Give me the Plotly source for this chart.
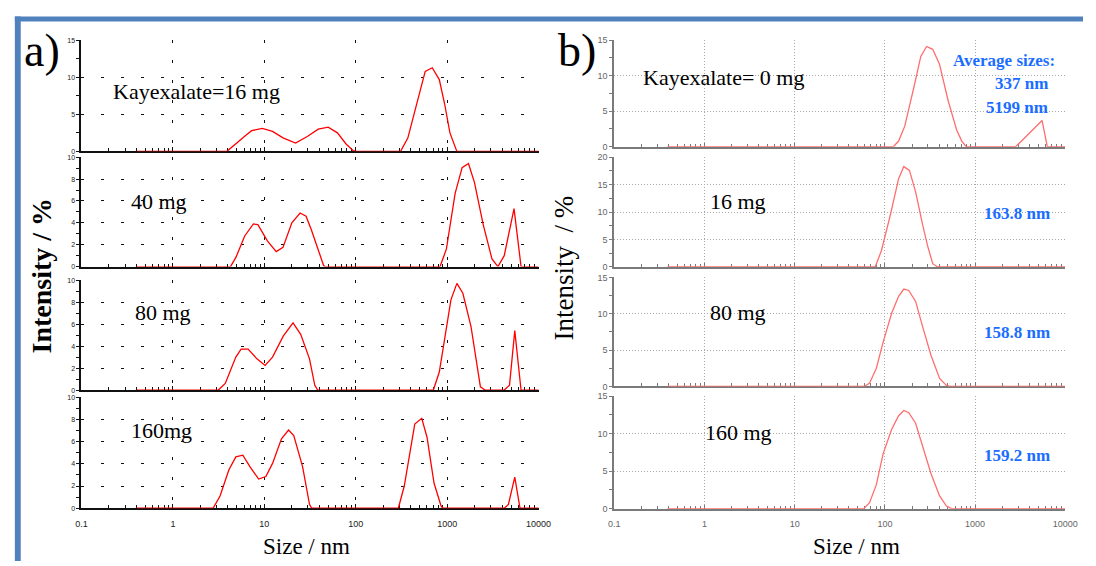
import plotly.graph_objects as go

# ---------------- data ----------------
decade_vals = [0.1, 1, 10, 100, 1000, 10000]
decade_text = ["0.1", "1", "10", "100", "1000", "10000"]

# Panel a) series
a1_size = [0.4, 3.9, 6.1, 7.26, 9.5, 12.3, 16, 22, 29.8, 38.9, 50, 63, 78.8, 94, 102,
           309, 371, 462, 575, 687, 820, 938, 1072, 1276, 10000]
a1_int = [0, 0, 2.05, 2.8, 3.1, 2.7, 1.83, 1.13, 2.05, 3.0, 3.27, 2.5, 0.96, 0.1, 0,
          0, 1.8, 6.4, 10.8, 11.3, 9.7, 6.4, 2.5, 0, 0]

a2_size = [0.4, 4.27, 4.9, 6.1, 7.6, 8.5, 10.8, 13.5, 16, 20, 24.6, 28.6, 32.6, 44.5, 46,
           836, 980, 1222, 1457, 1709, 1987, 2478, 3090, 3590, 4207, 5387, 6427, 10000]
a2_int = [0, 0, 0.86, 2.8, 3.9, 3.84, 2.35, 1.37, 1.76, 4.0, 4.9, 4.6, 3.4, 0.1, 0,
          0, 1.6, 6.7, 9.05, 9.43, 7.7, 3.84, 0.7, 0, 1.0, 5.3, 0, 0]

a3_size = [0.4, 3.14, 3.74, 4.88, 5.57, 6.65, 8.3, 10.2, 12.3, 16.1, 20.6, 25, 31.2, 35.6, 38.3,
           706, 820, 1099, 1277, 1484, 1820, 2309, 2590, 4207, 4807, 5487, 6427, 10000]
a3_int = [0, 0, 0.6, 3.0, 3.73, 3.73, 2.84, 2.24, 3.0, 4.9, 6.1, 5.07, 2.84, 0.45, 0,
          0, 1.64, 8.2, 9.7, 8.8, 5.8, 0.3, 0, 0, 0.45, 5.4, 0, 0]

a4_size = [0.4, 2.75, 3.28, 4.09, 4.88, 5.82, 6.95, 8.67, 10.4, 12.3, 15.4, 18.4, 21, 26.2, 31.2, 33,
           292, 339, 442, 527, 602, 718, 857, 896, 4207, 4677, 5487, 6266, 10000]
a4_int = [0, 0, 1.1, 3.45, 4.63, 4.78, 3.75, 2.63, 2.86, 4.04, 6.25, 7.05, 6.55, 3.75, 0.35, 0,
          0, 1.98, 7.58, 8.1, 6.4, 2.27, 0.2, 0, 0, 0.35, 2.8, 0, 0]

a_labels = ["Kayexalate=16 mg", "40 mg", "80 mg", "160mg"]
a_ymax = [15, 10, 10, 10]
a_dtick = [5, 2, 2, 2]
a_minor = [2.5, 1, 1, 1]

# Panel b) series
b1_size = [0.39, 124, 142, 166, 210, 250, 290, 339, 403, 502, 623, 711, 797,
           2799, 3275, 4256, 5522, 6310, 10000]
b1_int = [0, 0, 0.8, 2.9, 8.4, 12.7, 14.1, 13.7, 11.6, 6.5, 2.4, 0.8, 0,
          0, 0.8, 2.2, 3.7, 0, 0]

b2_size = [0.39, 78, 91.6, 114, 142, 162, 187, 219, 261, 297, 339, 386, 10000]
b2_int = [0, 0, 3.0, 9.25, 16.1, 18.3, 17.6, 13.7, 7.8, 3.9, 0.6, 0, 0]

b3_size = [0.39, 59.3, 67.6, 80.4, 95.6, 119, 142, 162, 184, 219, 261, 324, 404, 481, 525, 10000]
b3_int = [0, 0, 0.45, 2.5, 6.1, 10.1, 12.4, 13.4, 13.2, 11.7, 8.3, 4.3, 1.1, 0.15, 0, 0]

b4_size = [0.39, 58.2, 67.6, 80.4, 95.6, 119, 142, 162, 184, 219, 261, 324, 404, 481, 548, 10000]
b4_int = [0, 0, 0.8, 3.2, 7.35, 10.6, 12.4, 13.1, 12.8, 11.4, 8.4, 4.7, 1.7, 0.35, 0, 0]

b_labels = ["Kayexalate= 0 mg", "16 mg", "80 mg", "160 mg"]
b_avg_text = ["Average sizes:", "337 nm", "5199 nm"]
b_sizes_text = ["163.8 nm", "158.8 nm", "159.2 nm"]
b_ymax = [15, 20, 15, 15]
b_dtick = [5, 5, 5, 5]
b_minor = [2.5, 2.5, 2.5, 2.5]

# ---------------- layout helpers ----------------
W, H = 1096, 566
def px(x):
    return x / W
def py(y):
    return 1 - y / H

minor_x = [m * 10 ** e for e in range(-1, 4) for m in range(2, 10)]

a_series = [(a1_size, a1_int), (a2_size, a2_int), (a3_size, a3_int), (a4_size, a4_int)]
b_series = [(b1_size, b1_int), (b2_size, b2_int), (b3_size, b3_int), (b4_size, b4_int)]

a_xdom = [px(76.8), px(542)]
b_xdom = [px(619), px(1078)]
a_ydom = [(36, 149), (155, 266.3), (280, 392), (399.3, 512.3)]
b_ydom = [(35.7, 144.3), (155, 266.7), (277.3, 388.3), (398.3, 512.7)]

SERIF = "Liberation Serif"
SANS = "Liberation Sans"

fig = go.Figure()
layout = dict(
    width=W, height=H,
    margin=dict(l=0, r=0, t=0, b=0),
    paper_bgcolor="white", plot_bgcolor="white",
    showlegend=False,
)

def add_panel(series, ymaxs, dticks, minors, xdom, ydoms, start_idx, style):
    for i, ((xs, ys), ymax, dt, mn, (yt, yb)) in enumerate(zip(series, ymaxs, dticks, minors, ydoms)):
        n = start_idx + i
        xn = "x" if n == 1 else f"x{n}"
        yn = "y" if n == 1 else f"y{n}"
        xkey = "xaxis" if n == 1 else f"xaxis{n}"
        ykey = "yaxis" if n == 1 else f"yaxis{n}"
        fig.add_trace(go.Scatter(x=xs, y=ys, mode="lines", xaxis=xn, yaxis=yn,
                                 line=dict(color=style["line"], width=1.3), hoverinfo="skip"))
        last = (i == len(series) - 1)
        layout[xkey] = dict(
            type="log", range=[-1, 4], domain=xdom, anchor=yn,
            showline=True, linecolor=style["axis"], linewidth=style["axw"],
            ticks="inside", ticklen=4, tickcolor=style["axis"], tickwidth=1,
            tickmode="array", tickvals=decade_vals, ticktext=decade_text,
            showticklabels=last, ticklabelstandoff=6,
            tickfont=dict(family=SANS, size=style["xfs"], color=style["tcol"]),
            showgrid=True, gridcolor=style["grid"], griddash=style["dash"], gridwidth=1,
            minor=dict(tickmode="array", tickvals=minor_x, ticks="inside", ticklen=3,
                       tickcolor=style["axis"], tickwidth=1, showgrid=False),
            zeroline=False, layer="below traces", fixedrange=True,
        )
        layout[ykey] = dict(
            range=[0, ymax], domain=[py(yb), py(yt)], anchor=xn,
            showline=True, linecolor=style["axis"], linewidth=style["axw"],
            ticks="outside", ticklen=3, tickcolor=style["axis"], tickwidth=1,
            dtick=dt, tick0=0,
            tickfont=dict(family=SANS, size=style["yfs"], color=style["tcol"]),
            showgrid=True, gridcolor=style["grid"], griddash=style["dash"], gridwidth=1,
            minor=dict(dtick=mn, tick0=0, ticks="outside", ticklen=3,
                       tickcolor=style["axis"], tickwidth=1, showgrid=False),
            zeroline=False, layer="below traces", fixedrange=True,
        )

style_a = dict(line="#ff0000", axis="#111111", axw=2, grid="#111111",
               dash="3px,17px", xfs=9, yfs=7, tcol="#222222")
style_b = dict(line="#ff6e6e", axis="#7a7a7a", axw=2, grid="#a8a8a8",
               dash="1px,2px", xfs=9, yfs=9, tcol="#666666")

add_panel(a_series, a_ymax, a_dtick, a_minor, a_xdom, a_ydom, 1, style_a)
add_panel(b_series, b_ymax, b_dtick, b_minor, b_xdom, b_ydom, 5, style_b)

ann = []
def text(x, y, s, size, color="black", bold=False, xanchor="center", angle=0, family=SERIF):
    if bold:
        s = f"<b>{s}</b>"
    ann.append(dict(x=px(x), y=py(y), xref="paper", yref="paper", text=s, showarrow=False,
                    xanchor=xanchor, yanchor="middle", textangle=angle,
                    font=dict(family=family, size=size, color=color)))

# panel a labels
a_label_pos = [(107, 88), (125, 200), (129, 313), (125, 433)]
for lab, (x, y) in zip(a_labels, a_label_pos):
    text(x, y, lab, 22, xanchor="left")
# panel b labels
b_label_pos = [(646, 74), (714, 200), (714, 313), (709, 435)]
for lab, (x, y) in zip(b_labels, b_label_pos):
    text(x, y, lab, 22, xanchor="left")

BLUE = "#1a6dff"
for s, x, y in zip(b_avg_text, [1070, 1062, 1062], [56, 80, 104]):
    text(x, y, s, 17, BLUE, bold=True, xanchor="right")
for s, y in zip(b_sizes_text, [212, 333, 459]):
    text(1064, y, s, 17, BLUE, bold=True, xanchor="right")

# axis titles
text(306, 551, "Size / nm", 23)
text(865, 551, "Size / nm", 23)
text(36, 275, "Intensity / %", 28, bold=True, angle=-90)
text(568, 268, "Intensity  / %", 27, angle=-90)

# panel letters
text(37, 46, "a)", 46)
text(581, 46, "b)", 46)

layout["annotations"] = ann

# blue frame
FRAME = "#4f81bd"
layout["shapes"] = [
    dict(type="rect", xref="paper", yref="paper", x0=px(9), x1=1, y0=py(16.7), y1=py(11.7),
         fillcolor=FRAME, line=dict(width=0), layer="above"),
    dict(type="rect", xref="paper", yref="paper", x0=px(9), x1=px(15), y0=0, y1=py(11.7),
         fillcolor=FRAME, line=dict(width=0), layer="above"),
]

fig.update_layout(**layout)
fig.write_html("out.html")
